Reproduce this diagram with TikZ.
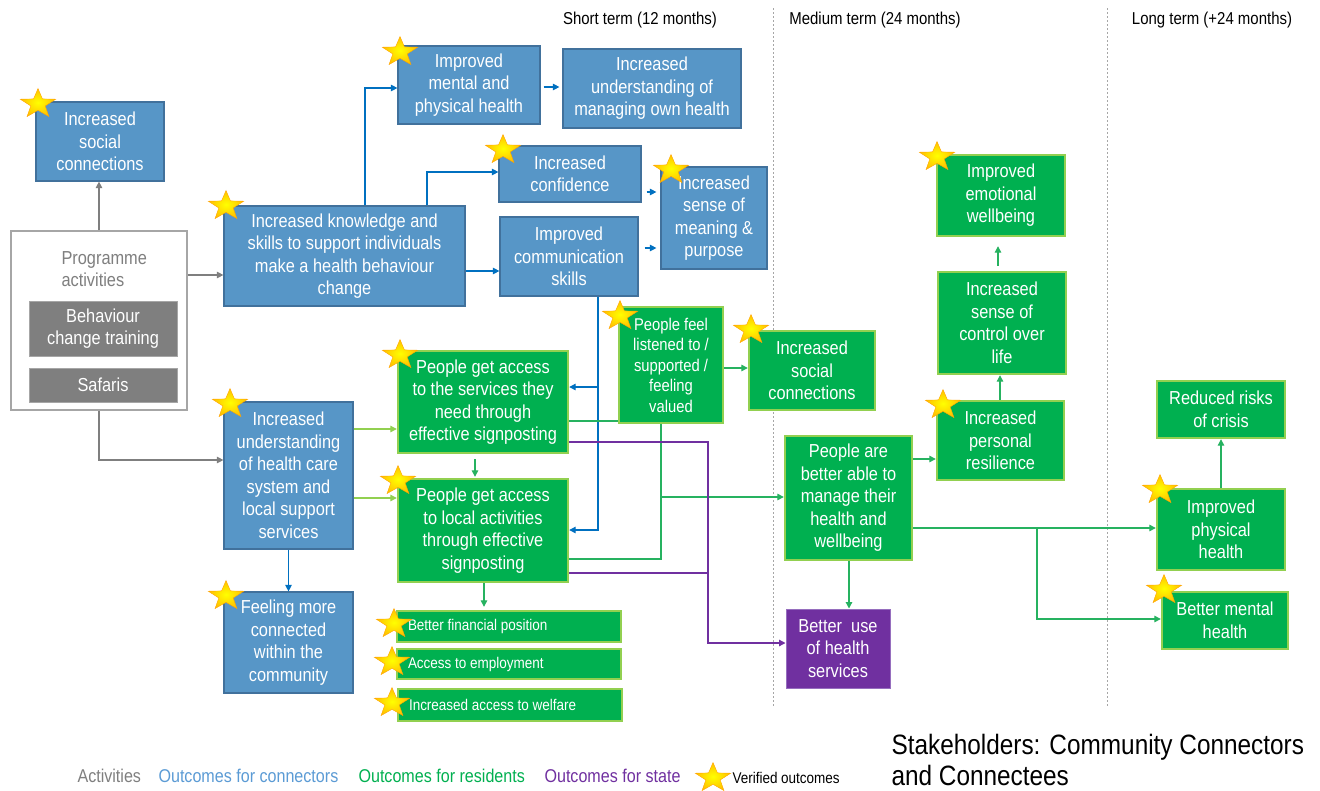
\documentclass[tikz,border=0pt]{standalone}
\usepackage{fontspec}
\setmainfont{Liberation Sans}[FakeStretch=0.87]
\usetikzlibrary{arrows.meta}

\definecolor{cblue}{RGB}{87,150,199}
\definecolor{cblueedge}{RGB}{65,113,156}
\definecolor{carrowblue}{RGB}{0,112,192}
\definecolor{cgreen}{RGB}{0,176,80}
\definecolor{cgreenedge}{RGB}{146,208,80}
\definecolor{clink}{RGB}{38,178,96}
\definecolor{clight}{RGB}{146,208,80}
\definecolor{cpurple}{RGB}{112,48,160}
\definecolor{cpurpleedge}{RGB}{150,110,190}
\definecolor{cgrey}{RGB}{127,127,127}
\definecolor{cgreyedge}{RGB}{166,166,166}
\definecolor{cstarout}{RGB}{255,192,0}
\definecolor{cstarin}{RGB}{255,255,0}
\definecolor{clegblue}{RGB}{91,155,213}

\newcommand\boxfont{\fontsize{18.8}{22.5}\selectfont}
\newcommand\midfont{\fontsize{17}{20.5}\selectfont}
\newcommand\smallfont{\fontsize{15.5}{18}\selectfont}
\newcommand\headfont{\fontsize{17.2}{20}\selectfont}
\newcommand\legfont{\fontsize{18.5}{22}\selectfont}
\newcommand\bigfont{\fontsize{28}{31}\selectfont}
% left-aligned single line of text inside a strip box
\newcommand\stripline[1]{\makebox[202pt][l]{#1}}

\tikzset{
  sz/.style 2 args={minimum width=#1pt, minimum height=#2pt},
  basebox/.style={inner sep=0pt, align=center, text=white, font=\boxfont},
  bluebox/.style={basebox, draw=cblueedge, fill=cblue, line width=1.2pt},
  greenbox/.style={basebox, draw=cgreenedge, fill=cgreen, line width=2.4pt},
  purplebox/.style={basebox, draw=cpurpleedge, fill=cpurple, line width=1pt},
  greybox/.style={basebox, draw=cgreyedge, fill=cgrey, line width=1pt},
  framebox/.style={draw=cgreyedge, fill=white, line width=1.3pt, inner sep=0pt},
  stripbox/.style={greenbox, font=\smallfont, inner xsep=11pt, inner ysep=0pt},
  arr/.style={line width=1.2pt, -{Triangle[length=6.5pt,width=6.5pt]}},
  greyarrow/.style={arr, draw=cgrey},
  bluearrow/.style={arr, draw=carrowblue},
  greenarrow/.style={arr, draw=clink},
  lightarrow/.style={arr, draw=clight},
  purplearrow/.style={arr, draw=cpurple},
  greenline/.style={line width=1.2pt, draw=clink},
  purpleline/.style={line width=1.2pt, draw=cpurple},
  divider/.style={draw=cgreyedge, line width=0.9pt, dash pattern=on 2pt off 2pt},
  vstar/.pic={
    \begin{scope}[xscale=1.2, yscale=-1]
      \shadedraw[inner color=cstarin, outer color=cstarout, draw=cstarout!85!red, line width=0.4pt]
        (90:15.5) -- (126:6.3) -- (162:15.5) -- (198:6.3) -- (234:15.5) -- (270:6.3)
        -- (306:15.5) -- (342:6.3) -- (18:15.5) -- (54:6.3) -- cycle;
    \end{scope}
  }
}

\begin{document}
\begin{tikzpicture}[x=1pt, y=-1pt]
\useasboundingbox (0,0) rectangle (1320,790);
\fill[white] (0,0) rectangle (1320,790);

% time horizons
\draw[divider] (773,8) -- (773,706);
\draw[divider] (1107,8) -- (1107,706);
\node[font=\headfont] (hshort) at (640,20) {Short term (12 months)};
\node[font=\headfont] (hmed) at (875,20) {Medium term (24 months)};
\node[font=\headfont] (hlong) at (1212,20) {Long term (+24 months)};

% activities
\node[framebox, sz={176}{179}] (programme) at (99,320.5) {};
\node[anchor=west, align=left, text=cgrey, font=\boxfont] (progtext) at (58,269) {Programme\\activities};
\node[greybox, sz={148}{55}] (behaviour) at (103,328.5) {Behaviour\\change training};
\node[greybox, sz={148}{34}] (safaris) at (103,385) {Safaris};

% outcomes for connectors
\node[bluebox, sz={128}{79}] (socialB) at (100,141.5) {Increased\\social\\connections};
\node[bluebox, sz={241}{100}] (knowledge) at (344.5,256) {Increased knowledge and\\skills to support individuals\\make a health behaviour\\change};
\node[bluebox, sz={142}{78}] (mental) at (469,85) {Improved\\mental and\\physical health};
\node[bluebox, sz={178}{79}] (ownhealth) at (652,88.5) {Increased\\understanding of\\managing own health};
\node[bluebox, sz={142}{56}] (confidence) at (570,174) {Increased\\confidence};
\node[bluebox, sz={106}{102}] (meaning) at (714,218) {Increased\\sense of\\meaning \&\\purpose};
\node[bluebox, sz={138}{79}] (communication) at (569,256.5) {Improved\\communication\\skills};
\node[bluebox, sz={129}{147}] (understanding) at (288.5,475.5) {Increased\\understanding\\of health care\\system and\\local support\\services};
\node[bluebox, sz={129}{101}] (feeling) at (288.5,642.5) {Feeling more\\connected\\within the\\community};

% outcomes for residents
\node[greenbox, sz={170}{102}] (services) at (483,402) {People get access\\to the services they\\need through\\effective signposting};
\node[greenbox, sz={170}{103}] (local) at (483,530.5) {People get access\\to local activities\\through effective\\signposting};
\node[greenbox, sz={104}{116}, font=\midfont] (listened) at (671,365) {People feel\\listened to /\\supported /\\feeling\\valued};
\node[greenbox, sz={126}{79}] (socialG) at (812,370.5) {Increased\\social\\connections};
\node[greenbox, sz={127}{124}] (manage) at (848.5,498) {People are\\better able to\\manage their\\health and\\wellbeing};
\node[greenbox, sz={127}{79}] (resilience) at (1000.5,440.5) {Increased\\personal\\resilience};
\node[greenbox, sz={128}{102}] (control) at (1002,323) {Increased\\sense of\\control over\\life};
\node[greenbox, sz={128}{81}] (emotional) at (1001,195.5) {Improved\\emotional\\wellbeing};
\node[greenbox, sz={128}{57}] (risks) at (1221,409.5) {Reduced risks\\of crisis};
\node[greenbox, sz={128}{81}] (physical) at (1221,529.5) {Improved\\physical\\health};
\node[greenbox, sz={126}{57}] (mentalG) at (1225,620.5) {Better mental\\health};
\node[stripbox, minimum height=31pt] (financial) at (509,626.5) {\stripline{Better financial position}};
\node[stripbox, minimum height=30pt] (employment) at (509,664) {\stripline{Access to employment}};
\node[stripbox, minimum height=32pt] (welfare) at (510,705) {\stripline{Increased access to welfare}};

% outcomes for state
\node[purplebox, sz={104}{79}] (betteruse) at (838,648.5) {Better~ use\\of health\\services};

% activity links
\draw[greyarrow] (programme.north) -- (programme.north |- socialB.south);
\draw[greyarrow] (programme.east |- 0,275) -- (knowledge.west |- 0,275);
\draw[greyarrow] (programme.south) -- (programme.south |- 0,460) -- (understanding.west |- 0,460);

% connector outcome links
\draw[bluearrow] (365,0 |- knowledge.north) -- (365,88) -- (mental.west |- 0,88);
\draw[bluearrow] (427,0 |- knowledge.north) -- (427,172) -- (confidence.west |- 0,172);
\draw[bluearrow] (knowledge.east |- 0,271) -- (communication.west |- 0,271);
\draw[bluearrow, shorten <=3pt, shorten >=3pt] (mental.east |- 0,87) -- (ownhealth.west |- 0,87);
\draw[bluearrow, shorten <=5pt, shorten >=4pt] (confidence.east |- 0,192) -- (meaning.west |- 0,192);
\draw[bluearrow, shorten <=6pt, shorten >=4pt] (communication.east |- 0,248) -- (meaning.west |- 0,248);
\draw[bluearrow] (598,0 |- communication.south) -- (598,530) -- (local.east |- 0,530);
\draw[bluearrow] (598,387) -- (services.east |- 0,387);
\draw[bluearrow] (understanding.south) -- (feeling.north);

% resident outcome links
\draw[lightarrow] (understanding.east |- 0,429) -- (services.west |- 0,429);
\draw[lightarrow] (understanding.east |- 0,498) -- (local.west |- 0,498);
\draw[greenarrow, shorten <=5pt, shorten >=1pt] (475,0 |- services.south) -- (475,0 |- local.north);
\draw[greenarrow, shorten >=3pt] (484,0 |- local.south) -- (484,0 |- financial.north);
\draw[greenline] (services.east |- 0,421) -- (listened.west |- 0,421);
\draw[greenline] (local.east |- 0,559) -- (661,559) -- (661,0 |- listened.south);
\draw[greenarrow] (661,497) -- (manage.west |- 0,497);
\draw[greenarrow] (listened.east |- 0,368) -- (socialG.west |- 0,368);
\draw[greenarrow] (manage.east |- 0,459) -- (resilience.west |- 0,459);
\draw[greenarrow] (manage.east |- 0,528) -- (physical.west |- 0,528);
\draw[greenarrow] (1037,528) -- (1037,619) -- (mentalG.west |- 0,619);
\draw[greenarrow] (849,0 |- manage.south) -- (849,0 |- betteruse.north);
\draw[greenarrow] (1000,0 |- resilience.north) -- (1000,0 |- control.south);
\draw[greenarrow, shorten <=5pt, shorten >=9pt] (998,0 |- control.north) -- (998,0 |- emotional.south);
\draw[greenarrow] (1221,0 |- physical.north) -- (1221,0 |- risks.south);

% state outcome links
\draw[purplearrow] (services.east |- 0,442) -- (708,442) -- (708,643) -- (betteruse.west |- 0,643);
\draw[purpleline] (local.east |- 0,573) -- (708,573);

% verified outcomes
\foreach \p in {(38,104),(226,206),(400,52),(503,150),(671,170),(400,355),(398,481),
                (620,316),(751,330),(230,404),(226,596),(394,624),(392,662),(392,703),
                (937,157),(943,405),(1160,490),(1164,590),(713,778)}
  \pic at \p {vstar};

% legend
\node[anchor=base west, font=\legfont, text=cgrey] (legact) at (74,782.5) {Activities};
\node[anchor=base west, font=\legfont, text=clegblue] (legcon) at (155,782.5) {Outcomes for connectors};
\node[anchor=base west, font=\legfont, text=cgreen] (legres) at (355,782.5) {Outcomes for residents};
\node[anchor=base west, font=\legfont, text=cpurple] (legstate) at (541,782.5) {Outcomes for state};
\node[anchor=base west, font=\smallfont, text=black] (legver) at (729,783) {Verified outcomes};
\node[anchor=west, align=left, font=\bigfont, text=black] (stake) at (888,760) {Stakeholders: Community Connectors\\and Connectees};
\end{tikzpicture}
\end{document}
